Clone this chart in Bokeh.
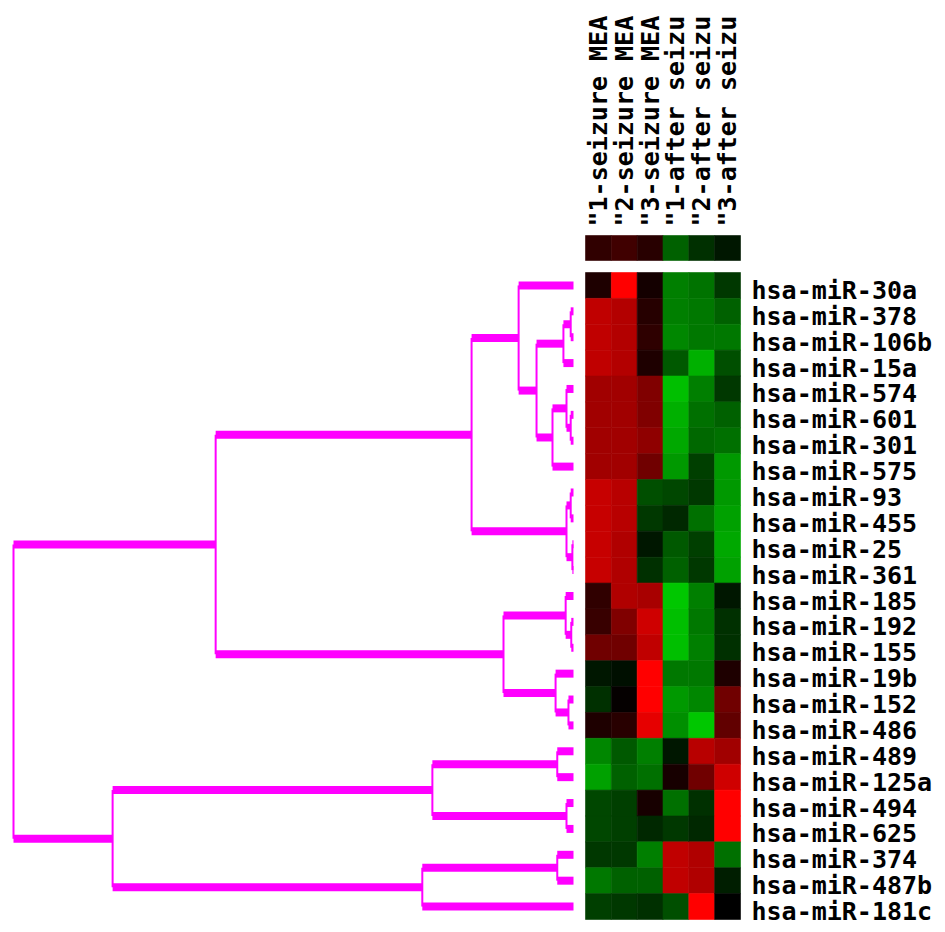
import math
from bokeh.plotting import figure
from bokeh.models import Range1d, ColumnDataSource
from bokeh.transform import linear_cmap
from bokeh.core.properties import value
from bokeh.embed import file_html
from bokeh.resources import INLINE

# ---------------- data ----------------
genes = ["hsa-miR-30a", "hsa-miR-378", "hsa-miR-106b", "hsa-miR-15a", "hsa-miR-574",
         "hsa-miR-601", "hsa-miR-301", "hsa-miR-575", "hsa-miR-93", "hsa-miR-455",
         "hsa-miR-25", "hsa-miR-361", "hsa-miR-185", "hsa-miR-192", "hsa-miR-155",
         "hsa-miR-19b", "hsa-miR-152", "hsa-miR-486", "hsa-miR-489", "hsa-miR-125a",
         "hsa-miR-494", "hsa-miR-625", "hsa-miR-374", "hsa-miR-487b", "hsa-miR-181c"]

samples = ['"1-seizure MEA', '"2-seizure MEA', '"3-seizure MEA',
           '"1-after seizu', '"2-after seizu', '"3-after seizu']

# log ratios (red = positive, green = negative), one list per sample column
s1_seizure = [0.36, 2.25, 2.25, 2.25, 1.89, 1.89, 1.89, 1.89, 2.34, 2.34, 2.34, 2.34, 0.57,
              0.66, 1.32, -0.27, -0.57, 0.36, -1.59, -1.89, -0.84, -0.84, -0.66, -1.41, -0.75]
s2_seizure = [3.0, 2.1, 2.1, 2.1, 1.89, 1.89, 1.89, 1.89, 2.16, 2.16, 2.07, 2.07, 2.07,
              1.5, 1.32, -0.18, 0.06, 0.48, -1.05, -1.14, -0.75, -0.75, -0.66, -1.14, -0.66]
s3_seizure = [0.24, 0.45, 0.54, 0.36, 1.5, 1.5, 1.68, 1.32, -0.93, -0.66, -0.27, -0.57, 1.98,
              2.43, 2.25, 3.0, 3.0, 2.7, -1.5, -1.32, 0.27, -0.48, -1.5, -1.14, -0.57]
s1_after = [-1.5, -1.5, -1.59, -1.05, -2.25, -2.07, -1.98, -1.8, -0.84, -0.48, -1.05, -1.14, -2.34,
            -2.25, -2.25, -1.41, -1.8, -1.68, -0.27, 0.27, -1.32, -0.66, 2.25, 2.25, -0.93]
s2_after = [-1.35, -1.41, -1.41, -2.07, -1.5, -1.32, -1.23, -0.75, -0.66, -1.32, -0.75, -0.66, -1.5,
            -1.41, -1.5, -1.41, -1.59, -2.34, 2.16, 1.32, -0.57, -0.48, 2.07, 2.07, 3.0]
s3_after = [-0.66, -1.14, -1.41, -0.93, -0.66, -1.14, -1.32, -1.8, -1.8, -1.89, -1.98, -1.89, -0.27,
            -0.57, -0.57, 0.36, 1.32, 1.14, 1.89, 2.43, 3.0, 3.0, -1.32, -0.36, 0.0]
columns_values = [s1_seizure, s2_seizure, s3_seizure, s1_after, s2_after, s3_after]

# array-level summary bar above the heatmap
sample_bar = [0.57, 0.75, 0.48, -1.14, -0.57, -0.27]

# gene-tree linkage: (left id, right id, merge distance); leaves are 0..24, new ids from 25
linkage = [
    (1, 2, 0.005),     # 25
    (5, 6, 0.005),     # 26
    (8, 9, 0.005),     # 27
    (10, 11, 0.002),   # 28
    (13, 14, 0.004),   # 29
    (16, 17, 0.009),   # 30
    (4, 26, 0.0125),   # 31
    (27, 28, 0.0125),  # 32
    (12, 29, 0.014),   # 33
    (20, 21, 0.0125),  # 34
    (25, 3, 0.018),    # 35
    (18, 19, 0.029),   # 36
    (22, 23, 0.029),   # 37
    (15, 30, 0.032),   # 38
    (31, 7, 0.0375),   # 39
    (35, 39, 0.066),   # 40
    (0, 40, 0.098),    # 41
    (33, 38, 0.125),   # 42
    (41, 32, 0.182),   # 43
    (36, 34, 0.252),   # 44
    (37, 24, 0.270),   # 45
    (43, 42, 0.639),   # 46
    (44, 45, 0.823),   # 47
    (46, 47, 1.0),     # 48
]

SAT = 3.0

# ---------------- layout (pixels inside the figure) ----------------
W, H = 945, 932
HX0, HX1 = 585.0, 740.0     # heatmap left/right
HY0, HY1 = 272.0, 919.0     # heatmap top/bottom
LEAF_PX, ROOT_PX = 573.0, 13.0

ncol, nrow = len(samples), len(genes)
ppx = (HX1 - HX0) / ncol
ppy = (HY1 - HY0) / nrow

x_range = Range1d(start=-HX0 / ppx, end=(W - HX0) / ppx)
y_range = Range1d(start=(H - HY0) / ppy, end=-HY0 / ppy)   # inverted: row 0 on top

root_h = max(h for _, _, h in linkage)
ppd = (LEAF_PX - ROOT_PX) / root_h
dist_range = Range1d(start=LEAF_PX / ppd, end=(LEAF_PX - W) / ppd)

p = figure(width=W, height=H, output_backend="svg", toolbar_location=None,
           x_range=x_range, y_range=y_range, min_border=0)
p.extra_x_ranges = {"dist": dist_range}
p.axis.visible = False
p.grid.visible = False
p.outline_line_color = None
p.background_fill_color = "white"
p.border_fill_color = "white"

# red/green palette
palette = ["#%02x%02x%02x" % (0, 255 - i, 0) for i in range(256)] + \
          ["#%02x%02x%02x" % (i, 0, 0) for i in range(256)]
cmap = linear_cmap("v", palette, -SAT, SAT)

# ---------------- heatmap ----------------
l, r, t, b, v = [], [], [], [], []
for ci, col in enumerate(columns_values):
    for ri, val in enumerate(col):
        l.append(ci); r.append(ci + 1); t.append(ri); b.append(ri + 1); v.append(val)
src = ColumnDataSource(dict(l=l, r=r, t=t, b=b, v=v))
p.quad(left="l", right="r", top="t", bottom="b", source=src,
       fill_color=cmap, line_color=cmap, line_width=0.6)

# summary bar
BAR_TOP = (235 - HY0) / ppy
BAR_BOT = (260 - HY0) / ppy
bsrc = ColumnDataSource(dict(l=list(range(ncol)), r=[i + 1 for i in range(ncol)],
                             t=[BAR_TOP] * ncol, b=[BAR_BOT] * ncol, v=sample_bar))
p.quad(left="l", right="r", top="t", bottom="b", source=bsrc,
       fill_color=cmap, line_color=cmap, line_width=0.6)

# ---------------- labels ----------------
font = value("DejaVu Sans Mono")
lab_y = (226 - HY0) / ppy
p.text(x=[i + 0.5 for i in range(ncol)], y=[lab_y] * ncol, text=samples,
       angle=math.pi / 2, text_align="left", text_baseline="middle",
       text_font=font, text_font_style="bold", text_font_size="25px", text_color="black")

p.text(x=[ncol + 11 / ppx] * nrow, y=[i + 0.5 + 5 / ppy for i in range(nrow)], text=genes,
       text_align="left", text_baseline="middle",
       text_font=font, text_font_style="bold", text_font_size="25px", text_color="black")

# ---------------- dendrogram ----------------
pos = {i: i + 0.5 for i in range(nrow)}
hgt = {i: 0.0 for i in range(nrow)}
hx0, hx1, hy = [], [], []
vx, vy0, vy1 = [], [], []
for k, (a, bb, h) in enumerate(linkage):
    nid = nrow + k
    for c in (a, bb):
        hx0.append(h); hx1.append(hgt[c]); hy.append(pos[c])
    vx.append(h); vy0.append(pos[a]); vy1.append(pos[bb])
    pos[nid] = (pos[a] + pos[bb]) / 2.0
    hgt[nid] = h

MAG = "#ff00ff"
p.segment(x0=hx0, y0=hy, x1=hx1, y1=hy, x_range_name="dist",
          line_color=MAG, line_width=8, line_cap="butt")
p.segment(x0=vx, y0=vy0, x1=vx, y1=vy1, x_range_name="dist",
          line_color=MAG, line_width=2, line_cap="butt")

open("out.html", "w").write(file_html(p, INLINE))
